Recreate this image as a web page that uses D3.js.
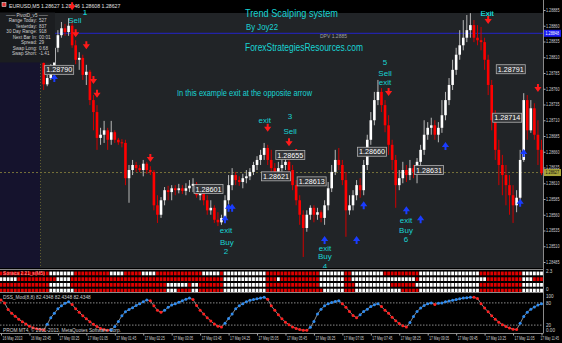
<!DOCTYPE html>
<html lang="en">
<head>
<meta charset="UTF-8">
<title>Trend Scalping system</title>
<script src="https://d3js.org/d3.v7.min.js"></script>
<style>
  body { margin: 0; background: #000; }
  svg { display: block; }
  text { font-family: "Liberation Sans", Arial, sans-serif; }
</style>
</head>
<body>
<div id="chart"></div>
<script>
// EURUSD M5, bar 0 = 16 May 2013 23:05, candles drawn from bar 12
const firstBar = 12;
const firstOpen = 1.28801;
const closes = [1.28767,1.28777,1.28796,1.28825,1.28845,1.28856,1.28850,1.28860,1.28829,1.28806,
  1.28809,1.28782,1.28787,1.28742,1.28723,1.28682,1.28687,1.28694,1.28679,1.28691,
  1.28679,1.28675,1.28674,1.28618,1.28631,1.28639,1.28634,1.28631,1.28641,1.28631,
  1.28628,1.28575,1.28560,1.28583,1.28599,1.28596,1.28602,1.28599,1.28602,1.28598,
  1.28602,1.28606,1.28609,1.28591,1.28594,1.28583,1.28567,1.28571,1.28552,1.28548,
  1.28555,1.28583,1.28607,1.28623,1.28615,1.28612,1.28618,1.28621,1.28628,1.28639,
  1.28647,1.28655,1.28666,1.28647,1.28634,1.28628,1.28634,1.28639,1.28644,1.28631,
  1.28607,1.28583,1.28560,1.28539,1.28560,1.28571,1.28560,1.28564,1.28555,1.28575,
  1.28602,1.28628,1.28647,1.28639,1.28615,1.28567,1.28575,1.28591,1.28607,1.28599,
  1.28639,1.28679,1.28710,1.28742,1.28755,1.28734,1.28702,1.28671,1.28647,1.28607,
  1.28618,1.28631,1.28623,1.28634,1.28628,1.28644,1.28663,1.28687,1.28698,1.28702,
  1.28687,1.28698,1.28718,1.28742,1.28766,1.28790,1.28814,1.28829,1.28841,1.28853,
  1.28861,1.28841,1.28837,1.28834,1.28806,1.28766,1.28710,1.28663,1.28639,1.28623,
  1.28607,1.28591,1.28575,1.28587,1.28647,1.28742,1.28694,1.28729,1.28687,1.28663,
  1.28626];
const highs = [1.28806,1.28782,1.28799,1.28831,1.28853,1.28866,1.28863,1.28872,1.28869,1.28837,
  1.28818,1.28814,1.28798,1.28790,1.28750,1.28734,1.28698,1.28709,1.28698,1.28709,
  1.28694,1.28682,1.28680,1.28679,1.28639,1.28647,1.28644,1.28639,1.28647,1.28644,
  1.28637,1.28631,1.28591,1.28588,1.28604,1.28606,1.28607,1.28607,1.28609,1.28607,
  1.28610,1.28615,1.28618,1.28612,1.28599,1.28599,1.28591,1.28583,1.28575,1.28564,
  1.28560,1.28591,1.28623,1.28634,1.28628,1.28621,1.28625,1.28631,1.28634,1.28644,
  1.28653,1.28663,1.28674,1.28671,1.28663,1.28642,1.28644,1.28650,1.28650,1.28650,
  1.28639,1.28615,1.28591,1.28567,1.28567,1.28575,1.28575,1.28571,1.28567,1.28583,
  1.28612,1.28639,1.28663,1.28666,1.28647,1.28628,1.28591,1.28599,1.28615,1.28618,
  1.28647,1.28687,1.28723,1.28755,1.28774,1.28761,1.28742,1.28718,1.28679,1.28655,
  1.28631,1.28644,1.28639,1.28647,1.28639,1.28650,1.28671,1.28710,1.28707,1.28714,
  1.28710,1.28707,1.28742,1.28755,1.28777,1.28806,1.28825,1.28853,1.28869,1.28877,
  1.28880,1.28869,1.28861,1.28858,1.28841,1.28814,1.28774,1.28726,1.28679,1.28655,
  1.28639,1.28623,1.28607,1.28599,1.28663,1.28753,1.28750,1.28742,1.28737,1.28710,
  1.28679];
const lows = [1.28758,1.28764,1.28774,1.28793,1.28818,1.28841,1.28844,1.28844,1.28825,1.28799,
  1.28790,1.28774,1.28766,1.28734,1.28694,1.28663,1.28671,1.28674,1.28663,1.28671,
  1.28674,1.28671,1.28667,1.28607,1.28579,1.28623,1.28628,1.28628,1.28621,1.28625,
  1.28623,1.28567,1.28547,1.28555,1.28575,1.28583,1.28583,1.28591,1.28594,1.28593,
  1.28591,1.28596,1.28596,1.28587,1.28583,1.28575,1.28560,1.28560,1.28547,1.28542,
  1.28544,1.28548,1.28575,1.28599,1.28607,1.28606,1.28602,1.28610,1.28615,1.28623,
  1.28631,1.28639,1.28647,1.28639,1.28628,1.28618,1.28621,1.28628,1.28631,1.28623,
  1.28599,1.28575,1.28544,1.28493,1.28533,1.28552,1.28548,1.28552,1.28548,1.28544,
  1.28567,1.28596,1.28623,1.28631,1.28607,1.28525,1.28560,1.28567,1.28583,1.28587,
  1.28591,1.28631,1.28671,1.28702,1.28734,1.28723,1.28691,1.28655,1.28631,1.28571,
  1.28599,1.28610,1.28612,1.28615,1.28618,1.28610,1.28637,1.28655,1.28679,1.28687,
  1.28679,1.28675,1.28690,1.28710,1.28734,1.28758,1.28782,1.28806,1.28821,1.28834,
  1.28841,1.28834,1.28829,1.28821,1.28790,1.28750,1.28694,1.28647,1.28607,1.28591,
  1.28575,1.28560,1.28547,1.28564,1.28580,1.28644,1.28679,1.28690,1.28679,1.28639,
  1.28623];

// DSS oscillator, one value per bar from bar 0
const dss = [88,80,62,52,44,36,29,23,17,13, 10,9,7,22,40,52,64,72,79,83,
  76,64,55,45,37,29,22,16,11,8, 6,7,16,30,45,56,62,67,73,78,
  83,88,86,72,60,55,60,68,74,78, 82,86,90,93,89,73,60,50,40,31,
  23,17,15,25,38,50,64,72,78,83, 87,89,91,93,95,90,72,60,48,37,
  28,21,15,11,8,6,6,14,30,50, 63,72,78,81,84,86,78,68,57,46,
  40,48,57,63,70,75,78,70,60,52, 41,32,24,18,15,27,43,57,66,73,
  78,80,76,79,80,83,85,87,89,91, 93,94,95,95,92,78,66,56,45,36,
  28,21,16,12,9,8,25,43,55,63, 69,74,78];

// trend bars panel: runs of white (up) bars per row
const trendRows = [
  [[14,20],[31,34],[40,43],[57,61],[63,74],[90,96],[99,107],[118,134],[147,152]],
  [[0,4],[16,19],[63,74],[78,78],[90,96],[99,116],[118,136],[147,149]],
  [[14,19],[47,52],[54,55],[63,74],[90,96],[100,109],[117,134],[147,152]],
  [[14,20],[47,49],[54,55],[63,74],[91,96],[100,112],[118,134],[147,152]]
];

const sellArrows = [{i:20,p:1.28891},{i:21,p:1.28848},{i:24,p:1.28829},{i:26,p:1.28774},{i:27,p:1.28752},
  {i:42,p:1.28650},{i:75,p:1.28698},{i:81,p:1.28675},{i:83,p:1.28658},{i:109,p:1.28755},
  {i:137,p:1.28869},{i:151,p:1.28761}];
const buyArrows = [{i:15,p:1.28777},{i:63,p:1.28553},{i:64,p:1.28571},{i:65,p:1.28571},{i:91,p:1.28520},
  {i:100,p:1.28520},{i:102,p:1.28575},{i:114,p:1.28567},{i:118,p:1.28553},{i:125,p:1.28669},
  {i:146,p:1.28579},{i:147,p:1.28658}];

const priceTags = [{i:12,p:1.28790},{i:54,p:1.28601},{i:73,p:1.28621},{i:77,p:1.28655},{i:83,p:1.28613},
  {i:100,p:1.28660},{i:116,p:1.28631},{i:139,p:1.28791},{i:138,p:1.28714}];

const notes = [
  {i:20.8,p:1.28864,t:"Sell"},{i:23.6,p:1.28877,t:"1"},
  {i:74.2,p:1.28706,t:"exit"},{i:81.3,p:1.28712,t:"3"},{i:81.3,p:1.28688,t:"Sell"},
  {i:108,p:1.28797,t:"5"},{i:108,p:1.28781,t:"Sell"},{i:108,p:1.28766,t:"exit"},
  {i:136.7,p:1.28875,t:"Exit"},
  {i:63.3,p:1.28531,t:"exit"},{i:63.5,p:1.28512,t:"Buy"},{i:63.3,p:1.28498,t:"2"},
  {i:91.1,p:1.28502,t:"exit"},{i:91.1,p:1.28489,t:"Buy"},{i:91.1,p:1.28474,t:"4"},
  {i:113.9,p:1.28547,t:"exit"},{i:113.9,p:1.28531,t:"Buy"},{i:113.9,p:1.28517,t:"6"}
];

const priceTicks = [1.28885,1.28860,1.28835,1.28810,1.28785,1.28760,1.28735,1.28710,1.28685,
  1.28660,1.28635,1.28610,1.28585,1.28560,1.28535,1.28510,1.28485];
const timeLabels = ["16 May 2013","16 May 23:45","17 May 00:25","17 May 01:05","17 May 01:45",
  "17 May 02:25","17 May 03:05","17 May 03:45","17 May 04:25","17 May 05:05","17 May 05:45",
  "17 May 06:25","17 May 07:05","17 May 07:45","17 May 08:25","17 May 09:05","17 May 09:45",
  "17 May 10:25","17 May 11:05","17 May 11:45"];

const pivotNames = ["Range Today:","Yesterday:","30 Day Range:","Next Bar In:","Spread:","Swap Long:","Swap Short:"];
const pivotValues = ["527","837","918","00:01","29","0.68","-1.41"];

const bidPrice = 1.28627, linePrice = 1.28848;

const W = 562, H = 343, axisX = 543;
const barMs = 5 * 60 * 1000;
const t0 = new Date(2013, 4, 16, 23, 5);
const tAt = i => new Date(t0.getTime() + i * barMs);

const x = d3.scaleTime().domain([tAt(0), tAt(152)]).range([1, 541.5]);
const y = d3.scaleLinear().domain([1.28885, 1.28485]).range([10, 262]);
const yd = d3.scaleLinear().domain([0, 100]).range([332.5, 295.5]);
const rowY = d3.scaleBand().domain([0,1,2,3]).range([271, 293]).paddingInner(0.35).paddingOuter(0.1);
const xi = i => x(tAt(i));

const svg = d3.select("#chart").append("svg").attr("width", W).attr("height", H);

svg.append("rect").attr("width", W).attr("height", H).attr("fill", "#000");
svg.append("rect").attr("x", 0).attr("y", 13).attr("width", axisX).attr("height", 255).attr("fill", "#212427");
svg.append("rect").attr("x", 0).attr("y", 13).attr("width", 40).attr("height", 255).attr("fill", "#15132d");
svg.append("line").attr("x1", 40.5).attr("x2", 40.5).attr("y1", 13).attr("y2", 268)
   .attr("stroke", "#5e5a30").attr("stroke-dasharray", "1,2");

// lines
svg.append("line").attr("x1", 0).attr("x2", axisX).attr("y1", y(bidPrice)).attr("y2", y(bidPrice))
   .attr("stroke", "#77723a").attr("stroke-dasharray", "2,2");
svg.append("line").attr("x1", 0).attr("x2", axisX).attr("y1", y(linePrice)).attr("y2", y(linePrice))
   .attr("stroke", "#2424c8");

// candles
const bars = closes.map((c, k) => ({
  i: firstBar + k, o: k ? closes[k - 1] : firstOpen, h: highs[k], l: lows[k], c: c
}));
const cg = svg.append("g");
cg.selectAll(".wick").data(bars).enter().append("line")
  .attr("x1", d => xi(d.i)).attr("x2", d => xi(d.i))
  .attr("y1", d => y(d.h)).attr("y2", d => y(d.l))
  .attr("stroke", d => d.c >= d.o ? "#b8b8b8" : "#d00000").attr("stroke-width", 1);
cg.selectAll(".body").data(bars).enter().append("rect")
  .attr("x", d => xi(d.i) - 1.3).attr("width", 2.6)
  .attr("y", d => y(Math.max(d.o, d.c)))
  .attr("height", d => Math.max(1, Math.abs(y(d.o) - y(d.c))))
  .attr("fill", d => d.c >= d.o ? "#ffffff" : "#ff0000");

// arrows
const arrowPath = "M-1,-4h2v3h2.6L0,4L-3.6,-1h2.6Z";
svg.selectAll(".sell").data(sellArrows).enter().append("path")
  .attr("d", arrowPath).attr("fill", "#ff1a1a")
  .attr("transform", d => `translate(${xi(d.i)},${y(d.p)})`);
svg.selectAll(".buy").data(buyArrows).enter().append("path")
  .attr("d", arrowPath).attr("fill", "#1a3cff")
  .attr("transform", d => `translate(${xi(d.i)},${y(d.p)}) scale(1,-1)`);

// price tags
const tg = svg.selectAll(".tag").data(priceTags).enter().append("g")
  .attr("transform", d => `translate(${xi(d.i) + 1},${y(d.p)})`);
tg.append("rect").attr("x", 0).attr("y", -4.5).attr("width", 29).attr("height", 9)
  .attr("fill", "#333538").attr("stroke", "#b0b0b0").attr("stroke-width", 0.8);
tg.append("text").attr("x", 14.5).attr("y", 2.6).attr("text-anchor", "middle")
  .attr("font-size", 7.2).attr("fill", "#fff").text(d => d.p.toFixed(5));

// notes
const noteText = sel => sel.append("text")
  .attr("x", d => xi(d.i)).attr("y", d => y(d.p)).attr("text-anchor", "middle")
  .attr("font-size", 8).attr("fill", "#19d3d3").text(d => d.t);
noteText(svg.selectAll(".note").data(notes).enter());

// titles
const title = (t, xx, yy, size, len, col) => svg.append("text").attr("x", xx).attr("y", yy)
  .attr("font-size", size).attr("fill", col || "#19d3d3").attr("textLength", len)
  .attr("lengthAdjust", "spacingAndGlyphs").text(t);
title("By Joy22", 246, 30, 9, 32);
title("DPV  1.2885", 320, 38, 6, 27, "#a0a0a0");
title("ForexStrategiesResources.com", 245, 51, 10.5, 118);
title("In this example exit at the opposite arrow", 177, 96, 8.5, 135);

// top strip
svg.append("rect").attr("x", 0).attr("y", 0).attr("width", axisX).attr("height", 12.5).attr("fill", "#000");
svg.append("rect").attr("x", 2).attr("y", 2.5).attr("width", 4).attr("height", 4).attr("fill", "#d33").attr("stroke", "#fff").attr("stroke-width", 0.5);
svg.append("text").attr("x", 9).attr("y", 7.5).attr("font-size", 5.2).attr("fill", "#e0e0e0")
  .text("EURUSD,M5  1.28627 1.28646 1.28608 1.28627");
// marks reaching into the top strip
svg.selectAll(".sellTop").data(sellArrows.filter(d => y(d.p) < 14)).enter().append("path")
  .attr("d", arrowPath).attr("fill", "#ff1a1a")
  .attr("transform", d => `translate(${xi(d.i)},${y(d.p)})`);
noteText(svg.selectAll(".noteTop").data(notes.filter(d => y(d.p) < 18)).enter());
title("Trend Scalping system", 245, 17, 11.5, 93);

// pivot box
const pb = svg.append("g");
pb.append("rect").attr("x", 0).attr("y", 12.5).attr("width", 55).attr("height", 50).attr("fill", "#1b1d20");
pb.append("text").attr("x", 27).attr("y", 16.5).attr("text-anchor", "middle").attr("font-size", 4.6)
  .attr("fill", "#cfcfcf").text("—— PivotD_v5 ——");
pivotNames.forEach((n, k) => {
  pb.append("text").attr("x", 37).attr("y", 22 + k * 5.5).attr("text-anchor", "end")
    .attr("font-size", 4.6).attr("fill", "#cfcfcf").text(n);
  pb.append("text").attr("x", 39).attr("y", 22 + k * 5.5)
    .attr("font-size", 4.6).attr("fill", "#cfcfcf").text(pivotValues[k]);
});

// trend bars panel
const sq = [];
trendRows.forEach((runs, r) => {
  d3.range(0, 153).forEach(i => {
    const up = runs.some(([a, b]) => i >= a && i <= b);
    sq.push({ r, i, up });
  });
});
svg.selectAll(".sq").data(sq).enter().append("rect")
  .attr("x", d => xi(d.i) - 1.4).attr("width", 2.8)
  .attr("y", d => rowY(d.r)).attr("height", rowY.bandwidth())
  .attr("fill", d => d.up ? "#ffffff" : "#e00000");
svg.append("text").attr("x", 3).attr("y", 275).attr("font-size", 4.8).attr("fill", "#ff9a9a")
  .text("Sonaca 2.21_s(M5)");

// DSS panel
[80, 20].forEach(v => svg.append("line").attr("x1", 0).attr("x2", axisX)
  .attr("y1", yd(v)).attr("y2", yd(v)).attr("stroke", "#8a8a8a").attr("stroke-dasharray", "1.5,1.5"));
svg.append("path").datum(dss)
  .attr("d", d3.line().x((d, i) => xi(i)).y(d => yd(d)))
  .attr("fill", "none").attr("stroke", "#8c8c8c").attr("stroke-width", 1);
svg.selectAll(".dot").data(dss).enter().append("circle")
  .attr("cx", (d, i) => xi(i)).attr("cy", d => yd(d)).attr("r", 1.5)
  .attr("fill", (d, i) => i > 0 && d > dss[i - 1] ? "#2f8cf0" : "#ff2020");
svg.append("text").attr("x", 3).attr("y", 298.5).attr("font-size", 4.8).attr("fill", "#cfcfcf")
  .text("DSS_Mod(8,8) 82.4348 82.4348 82.4348");
svg.append("text").attr("x", 3).attr("y", 331.5).attr("font-size", 4.8).attr("fill", "#cfcfcf")
  .text("PROM MT4, © 2001-2013, MetaQuotes Software Corp.");

// panel borders
[268.5, 269.5, 292.5, 333.5].forEach(v => svg.append("line").attr("x1", 0).attr("x2", axisX)
  .attr("y1", v).attr("y2", v).attr("stroke", v === 268.5 ? "#000" : "#8a8a8a"));
svg.append("line").attr("x1", axisX + 0.5).attr("x2", axisX + 0.5).attr("y1", 0).attr("y2", 333.5)
  .attr("stroke", "#8a8a8a");

// right price axis
const ax = svg.append("g").attr("transform", `translate(${axisX + 0.5},0)`)
  .call(d3.axisRight(y).tickValues(priceTicks).tickFormat(d3.format(".5f")).tickSize(2).tickPadding(0.5));
ax.select(".domain").remove();
ax.selectAll("line").attr("stroke", "#aaa");
ax.selectAll("text").attr("font-size", 4.6).attr("fill", "#d0d0d0").attr("font-family", "Liberation Sans, sans-serif")
  .attr("textLength", 13.5).attr("lengthAdjust", "spacingAndGlyphs");

// highlighted price boxes
[[linePrice, "#1c1cf0", "#fff"], [bidPrice, "#a8a43a", "#111"]].forEach(([p, bg, fg]) => {
  svg.append("rect").attr("x", axisX + 1).attr("y", y(p) - 3.5).attr("width", 17).attr("height", 7).attr("fill", bg);
  svg.append("text").attr("x", axisX + 2.5).attr("y", y(p) + 1.8).attr("font-size", 4.6).attr("fill", fg)
    .attr("textLength", 13.5).attr("lengthAdjust", "spacingAndGlyphs").text(p.toFixed(5));
});

// sub-panel scales
const sub = [["2.3", 273], ["0", 290.5], ["100", 297.5], ["80", yd(80) + 1.8], ["20", yd(20) + 1.8], ["0.00", 331.5]];
sub.forEach(([t, yy]) => svg.append("text").attr("x", axisX + 3).attr("y", yy)
  .attr("font-size", 4.6).attr("fill", "#d0d0d0").text(t));

// time axis
const tickTimes = timeLabels.map((_, k) => tAt(k * 8));
const tx = svg.append("g").attr("transform", "translate(0,333.5)")
  .call(d3.axisBottom(x).tickValues(tickTimes).tickFormat((d, k) => timeLabels[k]).tickSize(2));
tx.select(".domain").remove();
tx.selectAll("line").attr("stroke", "#aaa");
tx.selectAll("text").attr("text-anchor", "start").attr("x", (d, k) => k === timeLabels.length - 1 ? -1.5 : 1).attr("y", 3)
  .attr("font-size", 5.2).attr("fill", "#d0d0d0").attr("font-family", "Liberation Sans, sans-serif")
  .attr("textLength", (d, k) => k === timeLabels.length - 1 ? 18.5 : 20).attr("lengthAdjust", "spacingAndGlyphs");
</script>
</body>
</html>
